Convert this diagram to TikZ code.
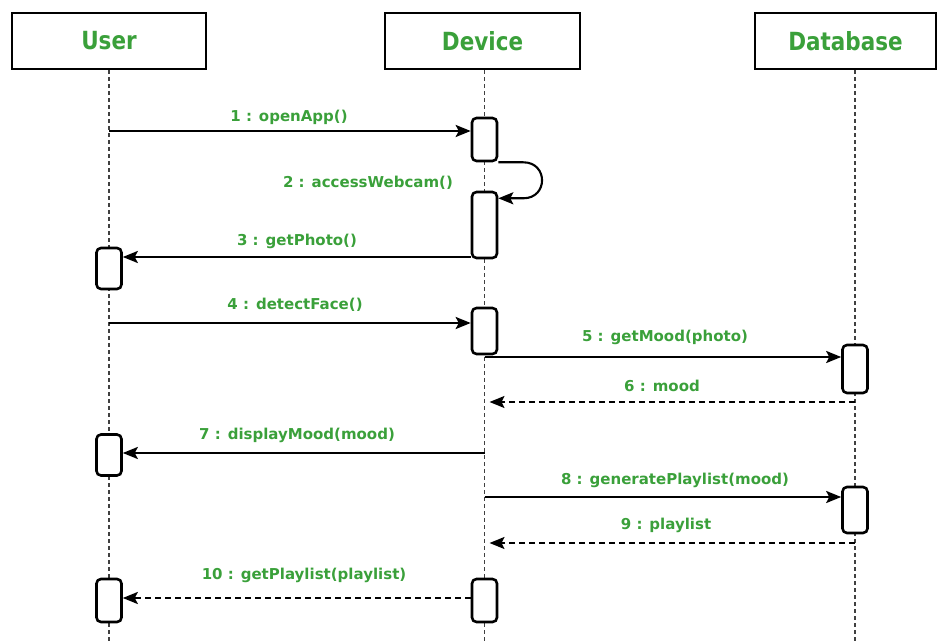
\documentclass[tikz,border=0pt]{standalone}
\usepackage{fontspec}
\setmainfont{DejaVu Sans}
\newfontfamily\headfont[FakeStretch=0.86]{DejaVu Sans}
\usetikzlibrary{arrows.meta,calc}
\definecolor{lblgreen}{RGB}{58,160,58}
\tikzset{
 head/.style={draw, line width=2.8pt, minimum width=#1, minimum height=56pt, inner sep=0pt, font=\headfont\fontsize{25}{29}\selectfont\bfseries, text=lblgreen},
 act/.style={draw, fill=white, line width=2.6pt, rounded corners=4.5pt, minimum width=25pt, minimum height=#1, inner sep=0pt},
 life/.style={line width=1.2pt, dash pattern=on 4pt off 3pt, draw=black!75},
 msg/.style={line width=2.1pt, -{Stealth[length=15pt,width=12pt,inset=3pt]}},
 ret/.style={msg, dash pattern=on 6pt off 4pt},
 lbl/.style={font=\fontsize{15}{17}\selectfont\bfseries, text=lblgreen, inner sep=0pt},
}
\begin{document}
\begin{tikzpicture}[x=1pt,y=-1pt]
\useasboundingbox (0,0) rectangle (939,644);
% headers
\node[head=194pt] (user) at (109,41) {User};
\node[head=195pt] (dev) at (482.5,41) {Device};
\node[head=181pt] (db) at (845.5,41) {Database};
% lifeline ends
\coordinate (ue) at (109,644);
\coordinate (de) at (484.5,644);
\coordinate (be) at (855,644);
\draw[life] (user.south -| ue) -- (ue);
\draw[life] (dev.south -| de) -- (de);
\draw[life] (db.south -| be) -- (be);
% activations
\node[act=43pt] (D1) at (484.5,139.5) {};
\node[act=66pt] (D2) at (484.5,225) {};
\node[act=46pt] (D3) at (484.5,331) {};
\node[act=43pt] (D4) at (484.5,600.5) {};
\node[act=41pt] (U1) at (109,268.5) {};
\node[act=41pt] (U2) at (109,455) {};
\node[act=43pt] (U3) at (109,600.5) {};
\node[act=48pt] (B1) at (855,369) {};
\node[act=46pt] (B2) at (855,510) {};
% message coordinates on lifelines
\coordinate (m1) at (109,131);
\coordinate (m3) at (484.5,257);
\coordinate (m4) at (109,323);
\coordinate (m5) at (484.5,357);
\coordinate (m6) at (855,402);
\coordinate (m7) at (484.5,453);
\coordinate (m8) at (484.5,497);
\coordinate (m9) at (855,543);
\coordinate (m10) at (484.5,598);
% messages
\draw[msg] (m1) -- (m1 -| D1.west);
\draw[msg] (D1.south east) -- ($(D1.south east)+(25,0)$) .. controls ($(D1.south east)+(50,0)$) and ($(D1.south east)+(50,36)$) .. ($(D1.south east)+(25,36)$) -- ($(D1.south east)+(0,36)$);
\draw[msg] (m3 -| D2.west) -- (m3 -| U1.east);
\draw[msg] (m4) -- (m4 -| D3.west);
\draw[msg] (m5) -- (m5 -| B1.west);
\draw[ret] (m6) -- ($(m6 -| D3.south)+(5,0)$);
\draw[msg] (m7) -- (m7 -| U2.east);
\draw[msg] (m8) -- (m8 -| B2.west);
\draw[ret] (m9) -- ($(m9 -| D3.south)+(5,0)$);
\draw[ret] (m10 -| D4.west) -- (m10 -| U3.east);
% labels
\node[lbl] (l1) at (289,117) {1 : openApp()};
\node[lbl] (l2) at (368,183) {2 : accessWebcam()};
\node[lbl] (l3) at (297,241) {3 : getPhoto()};
\node[lbl] (l4) at (295,305) {4 : detectFace()};
\node[lbl] (l5) at (665,337) {5 : getMood(photo)};
\node[lbl] (l6) at (662,386) {6 : mood};
\node[lbl] (l7) at (297,435) {7 : displayMood(mood)};
\node[lbl] (l8) at (675,480) {8 : generatePlaylist(mood)};
\node[lbl] (l9) at (666,525) {9 : playlist};
\node[lbl] (l10) at (304,575) {10 : getPlaylist(playlist)};
\end{tikzpicture}
\end{document}
